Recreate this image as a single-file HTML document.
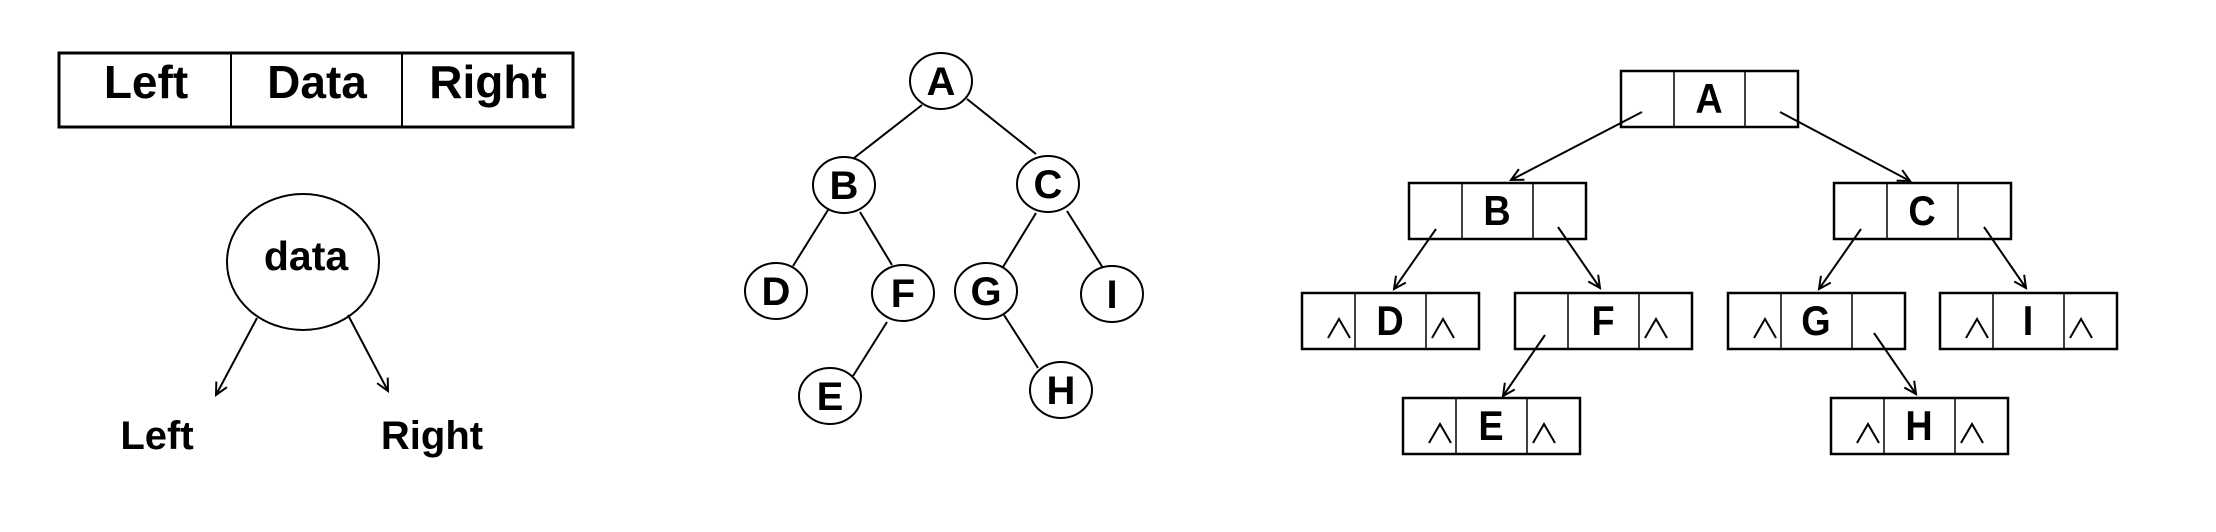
<!DOCTYPE html>
<html><head><meta charset="utf-8"><style>
html,body{margin:0;padding:0;background:#fff;}
svg{display:block;}
text{font-family:"Liberation Sans",sans-serif;font-weight:bold;fill:#000;}
</style></head><body>
<svg id="s" width="2216" height="532" viewBox="0 0 2216 532" xmlns="http://www.w3.org/2000/svg">
<defs><marker id="ah" markerWidth="16" markerHeight="16" refX="13" refY="8" orient="auto" markerUnits="userSpaceOnUse"><path d="M1,2 L13,8 L1,14" fill="none" stroke="#000" stroke-width="2"/></marker></defs>
<g>
<rect x="59" y="53" width="514" height="74" fill="none" stroke="#000" stroke-width="3"/>
<line x1="231" y1="53" x2="231" y2="127" stroke="#000" stroke-width="2"/>
<line x1="402" y1="53" x2="402" y2="127" stroke="#000" stroke-width="2"/>
<text x="146" y="98" font-size="46" text-anchor="middle">Left</text>
<text x="317" y="98" font-size="46" text-anchor="middle">Data</text>
<text x="488" y="98" font-size="46" text-anchor="middle">Right</text>
<ellipse cx="303" cy="262" rx="76" ry="68" fill="none" stroke="#000" stroke-width="2"/>
<text x="306" y="270" font-size="41" text-anchor="middle">data</text>
<line x1="257" y1="318" x2="216" y2="395" stroke="#000" stroke-width="2" marker-end="url(#ah)"/>
<line x1="348" y1="315" x2="388" y2="391" stroke="#000" stroke-width="2" marker-end="url(#ah)"/>
<text x="157" y="449" font-size="40" text-anchor="middle">Left</text>
<text x="432" y="449" font-size="40" text-anchor="middle">Right</text>
</g>
<g id="tree"></g>
<g id="linked"></g>
</svg>
<script>
var NS="http://www.w3.org/2000/svg";
function mk(tag,attrs,parent){var e=document.createElementNS(NS,tag);for(var k in attrs)e.setAttribute(k,attrs[k]);parent.appendChild(e);return e;}
var cnodes=[["A",941,81],["B",844,185],["C",1048,184],["D",776,291],["F",903,293],["G",986,291],["I",1112,294],["E",830,396],["H",1061,390]];
var cedges=[[922,105,854,158],[967,99,1036,154],[828,210,793,266],[860,212,892,265],[1036,213,1003,267],[1067,211,1103,268],[887,322,853,376],[1004,315,1038,368]];
var cedgeNames=["A-B","A-C","B-D","B-F","C-G","C-I","F-E","G-H"];
var tg=document.getElementById('tree');
cedges.forEach(function(d,i){var l=mk('line',{x1:d[0],y1:d[1],x2:d[2],y2:d[3],stroke:'#000','stroke-width':2},tg);

});
cnodes.forEach(function(n){var c=mk('ellipse',{cx:n[1],cy:n[2],rx:31,ry:28,fill:'#fff',stroke:'#000','stroke-width':2},tg);


var t=mk('text',{x:n[1],y:n[2]+14,'font-size':40,'text-anchor':'middle'},tg);t.textContent=n[0];

});
var lnodes=[["A",1621,71,0,0],["B",1409,183,0,0],["C",1834,183,0,0],["D",1302,293,1,1],["F",1515,293,0,1],["G",1728,293,1,0],["I",1940,293,1,1],["E",1403,398,1,1],["H",1831,398,1,1]];
var larrows=[[1642,112,1511,180],[1780,112,1910,181],[1436,229,1394,289],[1558,227,1600,288],[1861,229,1819,289],[1984,227,2026,288],[1545,335,1503,396],[1874,333,1916,394]];
var lg=document.getElementById('linked');
lnodes.forEach(function(n){var x=n[1],y=n[2];
var r=mk('rect',{x:x,y:y,width:177,height:56,fill:'none',stroke:'#000','stroke-width':2.5},lg);


[53,124].forEach(function(o){var l=mk('line',{x1:x+o,y1:y,x2:x+o,y2:y+56,stroke:'#000','stroke-width':1.5},lg);

});
var t=mk('text',{x:x+88,y:y+42,'font-size':42,'text-anchor':'middle',transform:'translate('+(x+88)+',0) scale(0.9,1) translate('+(-(x+88))+',0)'},lg);t.textContent=n[0];


if(n[3]){var p=mk('polyline',{points:(x+26)+','+(y+45)+' '+(x+37)+','+(y+26)+' '+(x+48)+','+(y+45),fill:'none',stroke:'#000','stroke-width':2},lg);

}
if(n[4]){var q=mk('polyline',{points:(x+130)+','+(y+45)+' '+(x+141)+','+(y+26)+' '+(x+152)+','+(y+45),fill:'none',stroke:'#000','stroke-width':2},lg);

}
});
larrows.forEach(function(d,i){var l=mk('line',{x1:d[0],y1:d[1],x2:d[2],y2:d[3],stroke:'#000','stroke-width':2,'marker-end':'url(#ah)'},lg);

});
</script>
</body></html>
